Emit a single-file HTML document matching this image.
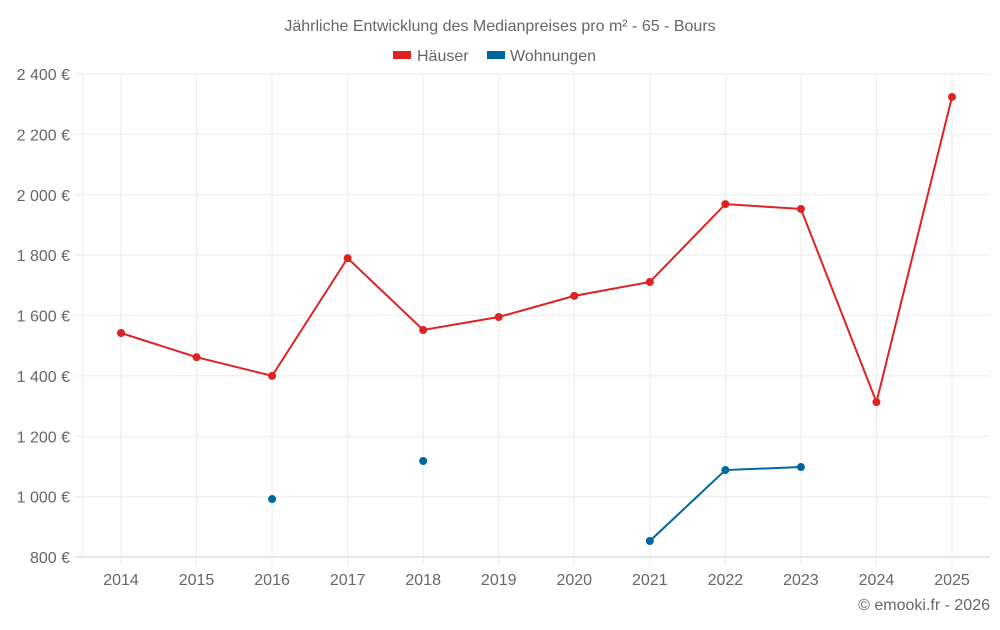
<!DOCTYPE html>
<html><head><meta charset="utf-8"><style>
body{margin:0;background:#fff;font-family:"Liberation Sans",sans-serif}
svg text{font-family:"Liberation Sans",sans-serif;fill:#666}
</style></head><body>
<svg width="1000" height="625" id="c">
<text x="500" y="31" text-anchor="middle" font-size="16">Jährliche Entwicklung des Medianpreises pro m² - 65 - Bours</text>
<g>
<g><rect x="393" y="51" width="18" height="8" fill="#dd2222"/><text x="417" y="61" font-size="16">Häuser</text></g>
<g><rect x="487" y="51" width="18" height="8" fill="#0066a0"/><text x="510" y="61" font-size="16">Wohnungen</text></g>
</g>
<text x="990" y="610" text-anchor="end" font-size="16">© emooki.fr - 2026</text>
<g id="grid"></g><g id="axes"></g><g id="series"></g>
</svg>
<script>
const years=['2014','2015','2016','2017','2018','2019','2020','2021','2022','2023','2024','2025'];
const yTicks=[800,1000,1200,1400,1600,1800,2000,2200,2400];
const yTickLabels=['800 €','1 000 €','1 200 €','1 400 €','1 600 €','1 800 €','2 000 €','2 200 €','2 400 €'];
const haeuser=[1542,1462,1400,1790,1552,1595,1665,1711,1969,1953,1313,2324];
const wohnungen=[null,null,992,null,1118,null,null,853,1088,1098,null,null];
const NS='http://www.w3.org/2000/svg';
const L=83,R=990,T=74,B=557,yMin=800,yMax=2400;
const x0=121,dx=(952-121)/11;
const xs=i=>x0+i*dx;
const ys=v=>B-(v-yMin)/(yMax-yMin)*(B-T);
function mk(tag,attrs,parent){const e=document.createElementNS(NS,tag);for(const k in attrs)e.setAttribute(k,attrs[k]);document.getElementById(parent).appendChild(e);return e;}
yTicks.forEach((v,i)=>{
 const l=mk('line',{x1:75,x2:R,y1:ys(v),y2:ys(v),stroke:i==0?'#ccc':'#ebebeb'},'grid');
 
 
 const t=mk('text',{x:70,y:ys(v)+6,'text-anchor':'end','font-size':16},'axes');t.textContent=yTickLabels[i];
 
 
});
const lv=mk('line',{x1:L,x2:L,y1:T,y2:B,stroke:'#ebebeb'},'grid');


years.forEach((y,i)=>{
 const l=mk('line',{x1:xs(i),x2:xs(i),y1:T,y2:B+8,stroke:'#ebebeb'},'grid');
 
 
 const t=mk('text',{x:xs(i),y:585,'text-anchor':'middle','font-size':16},'axes');t.textContent=y;
 
 
});
function draw(data,color,name){
 let segs=[],cur=[];
 data.forEach((v,i)=>{if(v==null){if(cur.length)segs.push(cur);cur=[];}else cur.push([xs(i),ys(v)]);});
 if(cur.length)segs.push(cur);
 segs.forEach(s=>{if(s.length>1){const p=mk('polyline',{points:s.map(q=>q.join(',')).join(' '),fill:'none',stroke:color,'stroke-width':2},'series');
  
  }});
 data.forEach((v,i)=>{if(v==null)return;const c=mk('circle',{cx:xs(i),cy:ys(v),r:4,fill:color},'series');
  
  });
}
draw(haeuser,'#dd2222','haeuser');
draw(wohnungen,'#0066a0','wohnungen');
</script>
</body></html>
